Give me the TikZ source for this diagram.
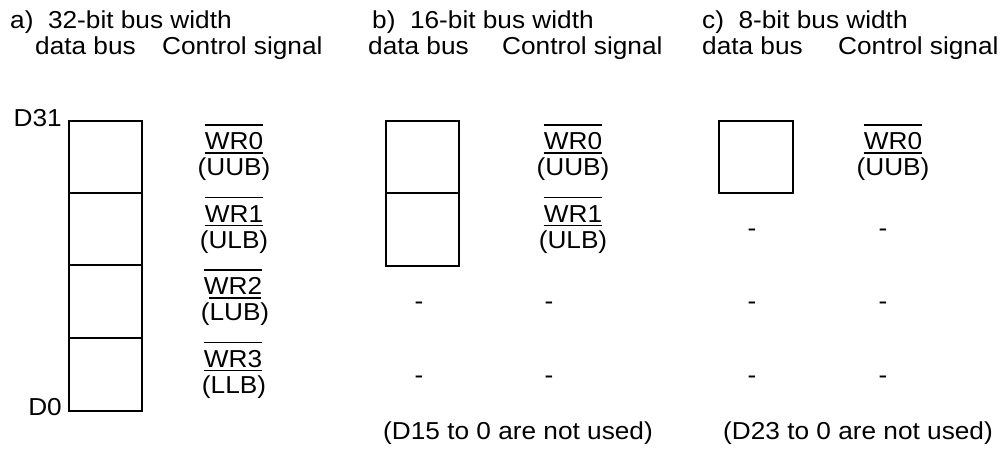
\documentclass[tikz,border=0pt]{standalone}
\usepackage{fontspec}
\setmainfont{Liberation Sans}[FakeStretch=1.07]
\begin{document}
\begin{tikzpicture}[x=1pt,y=-1pt,
  txt/.style={inner sep=0pt,font=\fontsize{24.5}{29}\selectfont},
  cell/.style={draw,line width=1.8pt,minimum width=73pt,inner sep=0pt},
  bar/.style={line width=1.3pt}]
\useasboundingbox (0,0) rectangle (1005,449);
% titles
\node[txt,anchor=base west] (ta) at (10,28.5) {a)\ \ 32-bit bus width};
\node[txt,anchor=base west] (tb) at (372,28.5) {b)\ \ 16-bit bus width};
\node[txt,anchor=base west] (tc) at (702,28.5) {c)\ \ 8-bit bus width};
% headers
\node[txt,anchor=base west] (da) at (35,55) {data bus};
\node[txt,anchor=base west] (ca) at (162,55) {Control signal};
\node[txt,anchor=base west] (db) at (368,55) {data bus};
\node[txt,anchor=base west] (cb) at (502,55) {Control signal};
\node[txt,anchor=base west] (dc) at (702,55) {data bus};
\node[txt,anchor=base west] (cc) at (838,55) {Control signal};
% a) cells
\node[cell,minimum height=72pt] (a1) at (105.5,156.7) {};
\node[cell,minimum height=72.6pt] (a2) at (105.5,229.0) {};
\node[cell,minimum height=73pt] (a3) at (105.5,301.8) {};
\node[cell,minimum height=72.4pt] (a4) at (105.5,374.5) {};
\node[txt,anchor=base east] (d31) at (62,127) {D31};
\node[txt,anchor=base east] (d0) at (62,415) {D0};
% b) cells
\node[cell,minimum height=72pt] (b1) at (422.5,156.7) {};
\node[cell,minimum height=73pt] (b2) at (422.5,229.2) {};
% c) cell
\node[cell,minimum height=72.3pt,minimum width=74pt] (c1) at (756,156.85) {};
% a) signals
\node[txt,anchor=base] (wa0) at (234,150) {WR0};
\node[txt,anchor=base] (pa0) at (234,176) {(UUB)};
\node[txt,anchor=base] (wa1) at (234,222.5) {WR1};
\node[txt,anchor=base] (pa1) at (234,248.5) {(ULB)};
\node[txt,anchor=base] (wa2) at (233,295) {WR2};
\node[txt,anchor=base] (pa2) at (235,321) {(LUB)};
\node[txt,anchor=base] (wa3) at (233,367.5) {WR3};
\node[txt,anchor=base] (pa3) at (234,393.5) {(LLB)};
\foreach \n in {wa0,wa1,wa2,wa3}
  \draw[bar] ([yshift=25pt]\n.base west) -- ([yshift=25pt]\n.base east);
\foreach \n in {wa0,wa1,wa3}
  \draw[bar] ([yshift=-3pt]\n.base west) -- ([yshift=-3pt]\n.base east);
\draw[bar] ([xshift=8.7pt,yshift=23pt]pa2.base west) -- ([xshift=-8.7pt,yshift=23pt]pa2.base east);
% b) signals
\node[txt,anchor=base] (wb0) at (573,150) {WR0};
\node[txt,anchor=base] (pb0) at (573,176) {(UUB)};
\node[txt,anchor=base] (wb1) at (573,222.5) {WR1};
\node[txt,anchor=base] (pb1) at (573,248.5) {(ULB)};
\foreach \n in {wb0,wb1}{
  \draw[bar] ([yshift=25pt]\n.base west) -- ([yshift=25pt]\n.base east);
  \draw[bar] ([yshift=-3pt]\n.base west) -- ([yshift=-3pt]\n.base east);}
% c) signals
\node[txt,anchor=base] (wc0) at (893,150) {WR0};
\node[txt,anchor=base] (pc0) at (893,176) {(UUB)};
\draw[bar] ([yshift=25pt]wc0.base west) -- ([yshift=25pt]wc0.base east);
\draw[bar] ([yshift=-3pt]wc0.base west) -- ([yshift=-3pt]wc0.base east);
% dashes
\node[txt,anchor=base] (xb1) at (419,309.5) {-};
\node[txt,anchor=base] (yb1) at (549,309.5) {-};
\node[txt,anchor=base] (xb2) at (419,383.5) {-};
\node[txt,anchor=base] (yb2) at (549,383.5) {-};
\node[txt,anchor=base] (xc0) at (752,237) {-};
\node[txt,anchor=base] (yc0) at (883,237) {-};
\node[txt,anchor=base] (xc1) at (752,309.5) {-};
\node[txt,anchor=base] (yc1) at (883,309.5) {-};
\node[txt,anchor=base] (xc2) at (752,383.5) {-};
\node[txt,anchor=base] (yc2) at (883,383.5) {-};
% notes
\node[txt,anchor=base west] (nb) at (383,439) {(D15 to 0 are not used)};
\node[txt,anchor=base west] (nc) at (723,439) {(D23 to 0 are not used)};
\end{tikzpicture}
\end{document}
